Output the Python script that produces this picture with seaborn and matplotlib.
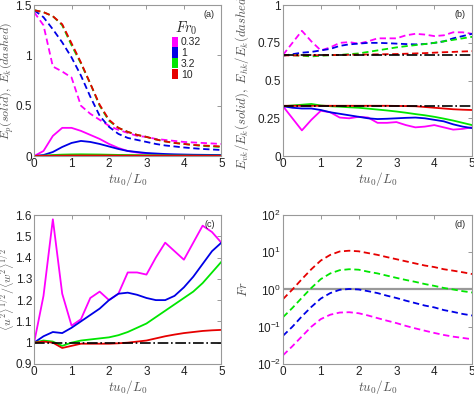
import numpy as np
import pandas as pd
import seaborn as sns
import matplotlib.pyplot as plt
from matplotlib.patches import Patch

# time axis (tu0/L0) and Froude numbers
t = [0, 0.25, 0.5, 0.75, 1.0, 1.25, 1.5, 1.75, 2.0, 2.25, 2.5,
     2.75, 3.0, 3.25, 3.5, 3.75, 4.0, 4.25, 4.5, 4.75, 5.0]
fr_labels = ['0.32', '1', '3.2', '10']
colors = ['#ff00ff', '#0000e6', '#00e600', '#e60000']

# (a) potential energy (solid) and kinetic energy (dashed)
ep_m = [0, 0.05, 0.2, 0.28, 0.28, 0.25, 0.21, 0.17, 0.12, 0.08, 0.05, 0.035, 0.025, 0.018, 0.013, 0.01, 0.008, 0.007, 0.006, 0.005, 0.005]
ep_b = [0, 0.01, 0.04, 0.09, 0.13, 0.15, 0.14, 0.12, 0.095, 0.07, 0.05, 0.04, 0.03, 0.025, 0.02, 0.017, 0.015, 0.013, 0.012, 0.011, 0.01]
ep_g = [0, 0.004, 0.01, 0.014, 0.016, 0.017, 0.016, 0.015, 0.013, 0.011, 0.01, 0.009, 0.008, 0.007, 0.006, 0.005, 0.005, 0.004, 0.004, 0.004, 0.004]
ep_r = [0, 0.002, 0.003, 0.004, 0.005, 0.005, 0.005, 0.005, 0.005, 0.004, 0.004, 0.004, 0.003, 0.003, 0.003, 0.003, 0.003, 0.003, 0.002, 0.002, 0.002]
ek_m = [1.43, 1.3, 0.89, 0.84, 0.78, 0.5, 0.42, 0.36, 0.3, 0.26, 0.23, 0.2, 0.19, 0.17, 0.16, 0.15, 0.14, 0.135, 0.13, 0.125, 0.12]
ek_b = [1.45, 1.38, 1.26, 1.13, 0.98, 0.8, 0.59, 0.4, 0.29, 0.22, 0.18, 0.16, 0.14, 0.12, 0.105, 0.095, 0.085, 0.077, 0.07, 0.065, 0.06]
ek_g = [1.45, 1.43, 1.39, 1.3, 1.1, 0.92, 0.72, 0.5, 0.35, 0.28, 0.24, 0.21, 0.19, 0.165, 0.145, 0.13, 0.12, 0.11, 0.1, 0.095, 0.09]
ek_r = [1.45, 1.43, 1.39, 1.31, 1.12, 0.93, 0.72, 0.51, 0.36, 0.28, 0.24, 0.21, 0.19, 0.165, 0.145, 0.13, 0.12, 0.11, 0.105, 0.1, 0.095]

# (b) vertical (solid) and horizontal (dashed) kinetic energy fractions
evk_m = [0.33, 0.25, 0.17, 0.24, 0.30, 0.29, 0.255, 0.25, 0.26, 0.255, 0.22, 0.22, 0.225, 0.205, 0.19, 0.195, 0.205, 0.19, 0.175, 0.18, 0.19]
evk_b = [0.33, 0.32, 0.315, 0.315, 0.305, 0.29, 0.28, 0.27, 0.26, 0.25, 0.245, 0.247, 0.25, 0.253, 0.255, 0.25, 0.24, 0.23, 0.21, 0.195, 0.185]
evk_g = [0.33, 0.335, 0.34, 0.345, 0.335, 0.33, 0.327, 0.323, 0.32, 0.314, 0.308, 0.302, 0.295, 0.287, 0.278, 0.27, 0.26, 0.248, 0.235, 0.22, 0.205]
evk_r = [0.333, 0.333, 0.333, 0.333, 0.333, 0.333, 0.333, 0.333, 0.333, 0.333, 0.333, 0.333, 0.332, 0.331, 0.33, 0.325, 0.32, 0.315, 0.31, 0.307, 0.305]
ehk_m = [0.67, 0.75, 0.83, 0.76, 0.70, 0.72, 0.75, 0.755, 0.745, 0.76, 0.78, 0.78, 0.78, 0.80, 0.81, 0.805, 0.795, 0.80, 0.82, 0.82, 0.81]
ehk_b = [0.665, 0.675, 0.685, 0.69, 0.70, 0.71, 0.73, 0.74, 0.745, 0.75, 0.75, 0.748, 0.745, 0.742, 0.74, 0.742, 0.75, 0.76, 0.78, 0.795, 0.81]
ehk_g = [0.67, 0.668, 0.665, 0.66, 0.665, 0.668, 0.67, 0.675, 0.68, 0.69, 0.70, 0.71, 0.72, 0.728, 0.735, 0.742, 0.75, 0.76, 0.77, 0.78, 0.79]
ehk_r = [0.667, 0.667, 0.667, 0.668, 0.668, 0.669, 0.67, 0.671, 0.672, 0.673, 0.674, 0.675, 0.676, 0.678, 0.68, 0.682, 0.685, 0.688, 0.69, 0.693, 0.695]

# (c) anisotropy ratio
an_m = [1.0, 1.22, 1.58, 1.23, 1.08, 1.11, 1.21, 1.24, 1.20, 1.23, 1.33, 1.33, 1.32, 1.40, 1.47, 1.43, 1.39, 1.47, 1.55, 1.52, 1.47]
an_b = [1.0, 1.03, 1.05, 1.045, 1.07, 1.10, 1.13, 1.16, 1.20, 1.23, 1.235, 1.225, 1.21, 1.20, 1.20, 1.22, 1.26, 1.31, 1.37, 1.43, 1.47]
an_g = [1.0, 1.01, 1.005, 0.985, 1.0, 1.01, 1.015, 1.02, 1.025, 1.035, 1.05, 1.07, 1.09, 1.12, 1.15, 1.18, 1.21, 1.24, 1.28, 1.33, 1.38]
an_r = [1.0, 1.005, 1.0, 0.975, 0.985, 0.995, 0.995, 0.995, 0.995, 0.997, 1.0, 1.005, 1.01, 1.02, 1.03, 1.038, 1.045, 1.05, 1.055, 1.058, 1.06]

# (d) Froude number
fr_m = [0.017, 0.03, 0.055, 0.1, 0.16, 0.21, 0.24, 0.245, 0.23, 0.2, 0.17, 0.145, 0.125, 0.105, 0.09, 0.078, 0.068, 0.06, 0.054, 0.05, 0.046]
fr_b = [0.057, 0.1, 0.19, 0.34, 0.57, 0.8, 0.98, 1.03, 1.0, 0.9, 0.8, 0.68, 0.59, 0.5, 0.43, 0.37, 0.33, 0.28, 0.25, 0.22, 0.2]
fr_g = [0.18, 0.32, 0.6, 1.1, 1.9, 2.7, 3.3, 3.5, 3.4, 3.0, 2.7, 2.35, 2.05, 1.8, 1.6, 1.4, 1.25, 1.1, 1.0, 0.9, 0.83]
fr_r = [0.55, 1.0, 1.9, 3.5, 6.0, 8.5, 10.5, 11.0, 10.6, 9.5, 8.5, 7.4, 6.5, 5.7, 5.0, 4.4, 4.0, 3.5, 3.2, 2.9, 2.6]

sns.set_style('white')
plt.rcParams['font.family'] = ['Liberation Sans', 'DejaVu Sans']
plt.rcParams['mathtext.fontset'] = 'cm'
plt.rcParams['xtick.direction'] = 'in'
plt.rcParams['ytick.direction'] = 'in'

fig = plt.figure(figsize=(4.74, 3.96), dpi=100)
ax_a = fig.add_axes([0.072, 0.606, 0.395, 0.381])
ax_b = fig.add_axes([0.597, 0.606, 0.399, 0.381])
ax_c = fig.add_axes([0.072, 0.081, 0.395, 0.376])
ax_d = fig.add_axes([0.597, 0.081, 0.399, 0.376])

dash = (3.5, 2)
lw = 1.3

def draw(ax, series, style):
    for vals, c in zip(series, colors):
        sns.lineplot(x=t, y=vals, color=c, lw=lw, ax=ax)
        if style == 'dashed':
            ax.lines[-1].set_dashes(dash)

draw(ax_a, [ep_m, ep_b, ep_g, ep_r], 'solid')
draw(ax_a, [ek_m, ek_b, ek_g, ek_r], 'dashed')
draw(ax_b, [evk_m, evk_b, evk_g, evk_r], 'solid')
draw(ax_b, [ehk_m, ehk_b, ehk_g, ehk_r], 'dashed')
ax_b.axhline(2 / 3, color='k', ls='-.', lw=1.2)
ax_b.axhline(1 / 3, color='k', ls='-.', lw=1.2)
draw(ax_c, [an_m, an_b, an_g, an_r], 'solid')
ax_c.axhline(1, color='k', ls='-.', lw=1.2)
ax_d.axhline(1, color='#999999', lw=1.6)
draw(ax_d, [fr_m, fr_b, fr_g, fr_r], 'dashed')
ax_d.set_yscale('log')

ax_a.set_ylim(0, 1.5)
ax_a.set_yticks([0, 0.5, 1, 1.5])
ax_a.set_yticklabels(['0', '0.5', '1', '1.5'])
ax_b.set_ylim(0, 1)
ax_b.set_yticks([0, 0.25, 0.5, 0.75, 1])
ax_b.set_yticklabels(['0', '0.25', '0.5', '0.75', '1'])
ax_c.set_ylim(0.9, 1.6)
ax_c.set_yticks(np.arange(0.9, 1.61, 0.1))
ax_c.set_yticklabels(['0.9', '1', '1.1', '1.2', '1.3', '1.4', '1.5', '1.6'])
ax_d.set_ylim(1e-2, 1e2)
ax_d.set_yticks([1e-2, 1e-1, 1e0, 1e1, 1e2])
ax_d.minorticks_off()

ylabels = ['$E_p(solid),\\ E_k(dashed)$',
           '$E_{vk}/E_k(solid),\\ E_{hk}/E_k(dashed)$',
           '$\\langle u^2\\rangle^{1/2}/\\langle w^2\\rangle^{1/2}$',
           '$Fr$']
label_x = [-0.098, -0.17, -0.092, -0.175]
label_fs = [8.6, 9.2, 8.5, 9.2]
tags = ['(a)', '(b)', '(c)', '(d)']
for ax, yl, lx, fs, tag in zip([ax_a, ax_b, ax_c, ax_d], ylabels, label_x, label_fs, tags):
    ax.set_xlim(0, 5)
    ax.set_xticks([0, 1, 2, 3, 4, 5])
    ax.set_xticklabels(['0', '1', '2', '3', '4', '5'])
    ax.set_xlabel('$tu_0/L_0$', fontsize=9.5, color='#555555', labelpad=0)
    ax.set_ylabel(yl, fontsize=fs, color='#555555')
    ax.yaxis.set_label_coords(lx, 0.5)
    ax.tick_params(labelsize=8.5, colors='#222222', length=3, width=0.6,
                   top=True, right=True, color='#888888', pad=1.5)
    for s in ax.spines.values():
        s.set_color('#999999')
        s.set_linewidth(0.8)
    ax.text(0.965, 0.965, tag, transform=ax.transAxes, ha='right', va='top',
            fontsize=6.5)

handles = [Patch(facecolor=c, edgecolor='none') for c in colors]
leg = ax_a.legend(handles, fr_labels, title='$Fr_0$', loc='upper right',
                  bbox_to_anchor=(0.93, 0.955), frameon=False, fontsize=7.5,
                  handlelength=0.55, handleheight=1.15, handletextpad=0.3,
                  labelspacing=0.0, borderpad=0.2)
leg.get_title().set_fontsize(10.5)

fig.savefig('out.png', dpi=100)
